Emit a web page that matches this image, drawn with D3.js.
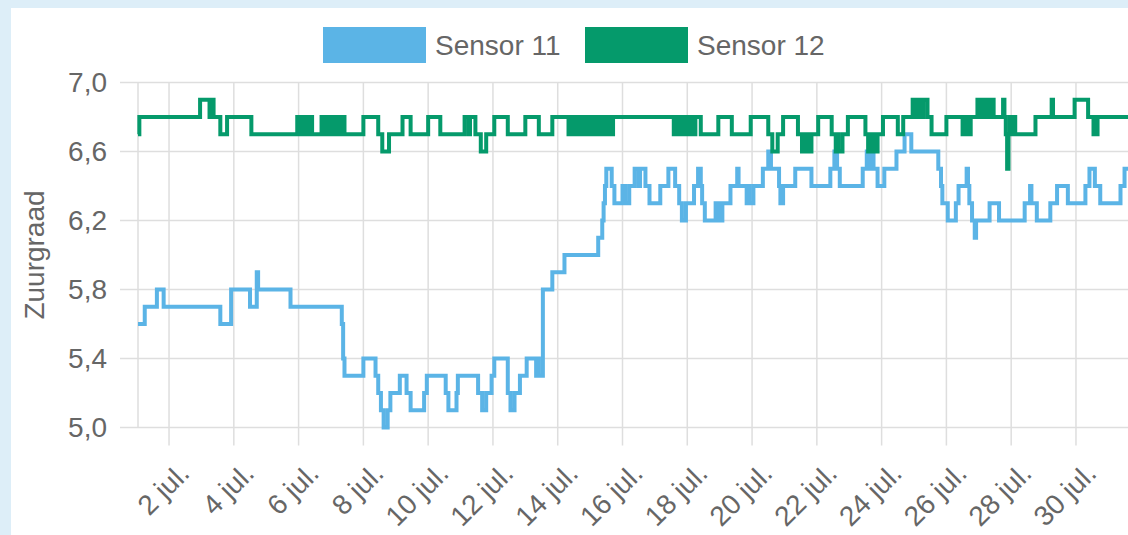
<!DOCTYPE html>
<html>
<head>
<meta charset="utf-8">
<script src="https://cdn.jsdelivr.net/npm/d3@7"></script>
<style>
  html, body { margin: 0; padding: 0; overflow: hidden; background: #ddeef8; }
  svg { display: block; }
</style>
</head>
<body>
<div id="chart"></div>
<script>
// hours since 1 jul. 00:00 and the pH reading that starts at that hour (stepped line)
var hours11 = [1, 6, 15, 20, 62, 70, 84, 89, 90, 114, 152, 153, 154, 168, 177, 179, 181, 183, 186, 188,
  195, 200, 203, 213, 215, 229, 231, 237, 238, 253, 256, 259, 263, 265, 275, 277, 280, 284, 289, 296,
  297, 298, 301, 308, 317, 342, 345, 346, 347, 348, 352, 354, 360, 362, 365, 369, 372, 373, 377, 380,
  388, 394, 399, 402, 404, 407, 413, 416, 418, 419, 421, 429, 430, 432, 433, 434, 440, 445, 446, 452,
  453, 454, 457, 464, 468, 470, 476, 477, 479, 488, 500, 514, 517, 519, 521, 538, 541, 543, 544, 546,
  549, 554, 563, 569, 574, 594, 596, 597, 601, 607, 609, 615, 616, 617, 619, 621, 622, 632, 639, 658,
  662, 663, 667, 677, 682, 690, 703, 706, 710, 714, 729, 732, 743];
var values11 = [5.6, 5.7, 5.8, 5.7, 5.6, 5.8, 5.7, 5.9, 5.8, 5.7, 5.6, 5.4, 5.3, 5.4, 5.3, 5.2, 5.1, 5.0, 5.1, 5.2,
  5.3, 5.2, 5.1, 5.2, 5.3, 5.2, 5.1, 5.2, 5.3, 5.2, 5.1, 5.2, 5.3, 5.4, 5.2, 5.1, 5.2, 5.3, 5.4, 5.3,
  5.4, 5.3, 5.8, 5.9, 6.0, 6.1, 6.2, 6.3, 6.4, 6.5, 6.4, 6.3, 6.4, 6.3, 6.4, 6.5, 6.4, 6.5, 6.4, 6.3,
  6.4, 6.5, 6.4, 6.3, 6.2, 6.3, 6.4, 6.5, 6.4, 6.3, 6.2, 6.3, 6.2, 6.3, 6.2, 6.3, 6.4, 6.5, 6.4, 6.3,
  6.4, 6.3, 6.4, 6.5, 6.6, 6.5, 6.4, 6.3, 6.4, 6.5, 6.4, 6.5, 6.6, 6.5, 6.4, 6.5, 6.6, 6.5, 6.6, 6.5,
  6.4, 6.5, 6.6, 6.7, 6.6, 6.5, 6.4, 6.3, 6.2, 6.3, 6.4, 6.5, 6.4, 6.3, 6.2, 6.1, 6.2, 6.3, 6.2, 6.3,
  6.4, 6.3, 6.2, 6.3, 6.4, 6.3, 6.4, 6.5, 6.4, 6.3, 6.4, 6.5, 6.5];

var hours12 = [1, 2, 47, 54, 55, 57, 62, 67, 85,
  119, 120, 121, 122, 123, 125, 126, 127, 128, 130,
  137, 138, 139, 141, 142, 143, 144, 146, 147, 149, 150, 151, 152, 154,
  168, 179, 182, 187, 197, 203, 216, 225, 243, 246, 247, 251, 255, 259, 265, 275, 288, 298, 308,
  320, 321, 322, 324, 325, 327, 328, 330, 331, 333, 334, 336, 337, 339, 340, 342, 343, 345, 346, 348, 349, 351, 352, 353,
  398, 399, 400, 402, 403, 405, 406, 408, 409, 411, 412, 414,
  418, 431, 441, 455, 468, 471, 475, 479, 490, 493, 494, 495, 497, 498, 500, 505, 515, 518, 519, 520, 523,
  527, 540, 542, 543, 544, 546, 547, 549, 553, 564, 568,
  575, 576, 577, 579, 580, 582, 583, 586, 589, 600, 612, 613, 614, 616, 617, 618,
  623, 624, 625, 627, 628, 630, 631, 633, 634, 635,
  642, 643, 644, 645, 646, 647, 648, 650, 651, 666, 678, 679, 695, 705, 709, 710, 711, 712, 743];
var values12 = [6.7, 6.8, 6.9, 6.8, 6.9, 6.8, 6.7, 6.8, 6.7,
  6.8, 6.7, 6.8, 6.7, 6.8, 6.7, 6.8, 6.7, 6.8, 6.7,
  6.8, 6.7, 6.8, 6.7, 6.8, 6.7, 6.8, 6.7, 6.8, 6.7, 6.8, 6.7, 6.8, 6.7,
  6.8, 6.7, 6.6, 6.7, 6.8, 6.7, 6.8, 6.7, 6.8, 6.7, 6.8, 6.7, 6.6, 6.7, 6.8, 6.7, 6.8, 6.7, 6.8,
  6.7, 6.8, 6.7, 6.8, 6.7, 6.8, 6.7, 6.8, 6.7, 6.8, 6.7, 6.8, 6.7, 6.8, 6.7, 6.8, 6.7, 6.8, 6.7, 6.8, 6.7, 6.8, 6.7, 6.8,
  6.7, 6.8, 6.7, 6.8, 6.7, 6.8, 6.7, 6.8, 6.7, 6.8, 6.7, 6.8,
  6.7, 6.8, 6.7, 6.8, 6.7, 6.6, 6.7, 6.8, 6.7, 6.6, 6.7, 6.6, 6.7, 6.6, 6.7, 6.8, 6.7, 6.6, 6.7, 6.6, 6.7,
  6.8, 6.7, 6.6, 6.7, 6.6, 6.7, 6.6, 6.7, 6.8, 6.7, 6.8,
  6.9, 6.8, 6.9, 6.8, 6.9, 6.8, 6.9, 6.8, 6.7, 6.8, 6.7, 6.8, 6.7, 6.8, 6.7, 6.8,
  6.9, 6.8, 6.9, 6.8, 6.9, 6.8, 6.9, 6.8, 6.9, 6.8,
  6.9, 6.8, 6.7, 6.5, 6.7, 6.8, 6.7, 6.8, 6.7, 6.8, 6.9, 6.8, 6.9, 6.8, 6.7, 6.8, 6.7, 6.8, 6.8];

var seriesNames = ["Sensor 11", "Sensor 12"];
var seriesColors = ["#5bb4e6", "#059a6b"];
var yTicks = [5.0, 5.4, 5.8, 6.2, 6.6, 7.0];
var yTitle = "Zuurgraad";

var W = 1128, H = 535;
var plotLeft = 138, plotTop = 82.5, plotBottom = 427.5;
var pxPerHour = 32.39 / 24;
var font = "'Liberation Sans', Arial, Helvetica, sans-serif";
var fontSize = "28px";
var textColor = "#666";
var gridColor = "#dedede";

var start = new Date(2023, 6, 1);
function toDate(h) { return new Date(start.getTime() + h * 3600 * 1000); }

var svg = d3.select("#chart").append("svg")
  .attr("width", W)
  .attr("height", H);

// white panel on the light blue page
svg.append("rect")
  .attr("x", 11).attr("y", 8)
  .attr("width", W).attr("height", H)
  .attr("fill", "#fff");

var x = d3.scaleTime()
  .domain([toDate(1), toDate(743)])
  .range([plotLeft, plotLeft + 742 * pxPerHour]);

var y = d3.scaleLinear()
  .domain([5.0, 7.0])
  .range([plotBottom, plotTop]);

// grid lines
var xTicks = x.ticks(d3.timeDay.filter(function(d) { return d.getDate() % 2 === 0; }));

svg.append("g").selectAll("line")
  .data(yTicks)
  .enter().append("line")
  .attr("x1", plotLeft - 18).attr("x2", W)
  .attr("y1", function(d) { return y(d); })
  .attr("y2", function(d) { return y(d); })
  .attr("stroke", gridColor).attr("stroke-width", 1.5);

svg.append("g").selectAll("line")
  .data(xTicks)
  .enter().append("line")
  .attr("x1", function(d) { return x(d); })
  .attr("x2", function(d) { return x(d); })
  .attr("y1", plotTop).attr("y2", plotBottom + 18)
  .attr("stroke", gridColor).attr("stroke-width", 1.5);

svg.append("line")
  .attr("x1", plotLeft).attr("x2", plotLeft)
  .attr("y1", plotTop).attr("y2", plotBottom)
  .attr("stroke", gridColor).attr("stroke-width", 1.5);

// y tick labels
svg.append("g").selectAll("text")
  .data(yTicks)
  .enter().append("text")
  .attr("x", 107)
  .attr("y", function(d) { return y(d); })
  .attr("dy", "0.35em")
  .attr("text-anchor", "end")
  .attr("font-family", font).attr("font-size", fontSize)
  .attr("fill", textColor)
  .text(function(d) { return d3.format(".1f")(d).replace(".", ","); });

// x tick labels, rotated
svg.append("g").selectAll("text")
  .data(xTicks)
  .enter().append("text")
  .attr("transform", function(d) { return "translate(" + (x(d) + 22) + "," + 475 + ") rotate(-45)"; })
  .attr("text-anchor", "end")
  .attr("font-family", font).attr("font-size", fontSize)
  .attr("fill", textColor)
  .text(function(d) { return d.getDate() + " jul."; });

// y axis title
svg.append("text")
  .attr("transform", "translate(44," + ((plotTop + plotBottom) / 2) + ") rotate(-90)")
  .attr("text-anchor", "middle")
  .attr("font-family", font).attr("font-size", fontSize)
  .attr("fill", textColor)
  .text(yTitle);

// lines
var line = d3.line()
  .curve(d3.curveStepAfter)
  .x(function(d) { return x(toDate(d[0])); })
  .y(function(d) { return y(d[1]); });

var data11 = hours11.map(function(h, i) { return [h, values11[i]]; });
var data12 = hours12.map(function(h, i) { return [h, values12[i]]; });

[data11, data12].forEach(function(data, i) {
  svg.append("path")
    .datum(data)
    .attr("fill", "none")
    .attr("stroke", seriesColors[i])
    .attr("stroke-width", 4)
    .attr("d", line);
});

// legend
var legendX = [323, 585];
seriesNames.forEach(function(name, i) {
  svg.append("rect")
    .attr("x", legendX[i]).attr("y", 27)
    .attr("width", 103).attr("height", 36)
    .attr("fill", seriesColors[i]);
  svg.append("text")
    .attr("x", legendX[i] + 112).attr("y", 45)
    .attr("dy", "0.35em")
    .attr("font-family", font).attr("font-size", fontSize)
    .attr("fill", textColor)
    .text(name);
});
</script>
</body>
</html>
